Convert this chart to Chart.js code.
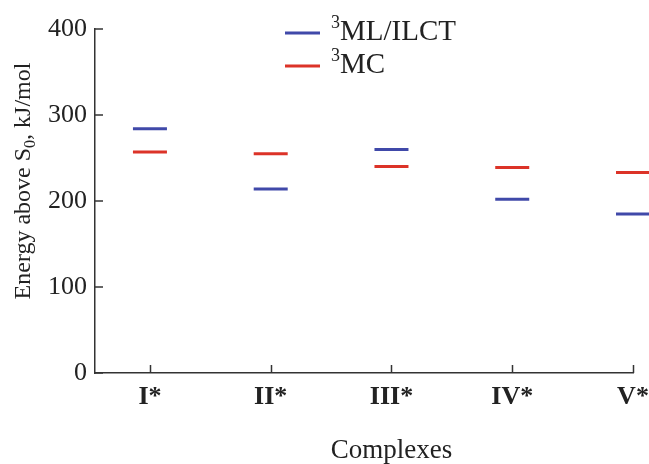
<!DOCTYPE html>
<html>
<head>
<meta charset="utf-8">
<script src="https://cdn.jsdelivr.net/npm/chart.js@4/dist/chart.umd.min.js"></script>
<style>
  html, body { margin: 0; padding: 0; background: #fff; }
  #wrap { width: 649px; height: 464px; }
</style>
</head>
<body>
<div id="wrap"><canvas id="levels"></canvas></div>
<script>
const complexes = ['I*', 'II*', 'III*', 'IV*', 'V*'];
const mlIlct = [284, 214, 260, 202, 185];
const mc = [257, 255, 240, 239, 233];
const yTicks = [0, 100, 200, 300, 400];

const serif = '"Liberation Serif", "Times New Roman", serif';
const BLUE = '#4049a9';
const RED = '#dc3328';
const AXIS = '#333';

const toPoints = vals => vals.map((v, i) => ({ x: i, y: v }));

// axis titles, category labels, inward ticks and the stacked legend
const decorations = {
  id: 'decorations',
  afterDraw(chart) {
    const { ctx, chartArea, scales } = chart;
    const xs = scales.x, ys = scales.y;
    ctx.save();
    ctx.strokeStyle = AXIS;
    ctx.lineWidth = 1.5;
    // inward ticks
    complexes.forEach((c, i) => {
      const px = Math.round(xs.getPixelForValue(i)) + 0.5;
      ctx.beginPath();
      ctx.moveTo(px, chartArea.bottom);
      ctx.lineTo(px, chartArea.bottom - 8);
      ctx.stroke();
    });
    yTicks.forEach(v => {
      const py = ys.getPixelForValue(v);
      ctx.beginPath();
      ctx.moveTo(chartArea.left, py);
      ctx.lineTo(chartArea.left + 8, py);
      ctx.stroke();
    });

    ctx.fillStyle = '#222';
    ctx.textBaseline = 'alphabetic';
    // category labels (drawn here so they don't shrink the plot area)
    ctx.font = 'bold 26px ' + serif;
    ctx.textAlign = 'center';
    complexes.forEach((c, i) => {
      ctx.fillText(c, xs.getPixelForValue(i), chartArea.bottom + 31);
    });

    // x title
    ctx.font = '27px ' + serif;
    ctx.fillText('Complexes', xs.getPixelForValue(2), 458);

    // y title with subscript
    ctx.save();
    ctx.translate(30, (chartArea.top + chartArea.bottom) / 2 - 20);
    ctx.rotate(-Math.PI / 2);
    const big = '24px ' + serif, small = '16px ' + serif;
    const parts = [['Energy above S', big, 0], ['0', small, 5], [', kJ/mol', big, 0]];
    let total = 0;
    parts.forEach(p => { ctx.font = p[1]; total += ctx.measureText(p[0]).width; });
    let x = -total / 2;
    ctx.textAlign = 'left';
    parts.forEach(p => {
      ctx.font = p[1];
      ctx.fillText(p[0], x, p[2]);
      x += ctx.measureText(p[0]).width;
    });
    ctx.restore();

    // legend
    const items = [[BLUE, 'ML/ILCT', 40], [RED, 'MC', 73]];
    items.forEach(([col, txt, base]) => {
      ctx.strokeStyle = col;
      ctx.lineWidth = 3;
      ctx.beginPath();
      ctx.moveTo(285, base - 7);
      ctx.lineTo(320, base - 7);
      ctx.stroke();
      ctx.textAlign = 'left';
      ctx.font = '18px ' + serif;
      ctx.fillText('3', 331, base - 12);
      ctx.font = '29px ' + serif;
      ctx.fillText(txt, 340, base);
    });
    ctx.restore();
  }
};

new Chart(document.getElementById('levels'), {
  type: 'scatter',
  data: {
    datasets: [
      { label: '3ML/ILCT', data: toPoints(mlIlct), borderColor: BLUE, backgroundColor: BLUE, clip: false },
      { label: '3MC', data: toPoints(mc), borderColor: RED, backgroundColor: RED, clip: false }
    ]
  },
  options: {
    responsive: true,
    maintainAspectRatio: false,
    animation: false,
    layout: { autoPadding: false, padding: { top: 29, right: 16, left: 0, bottom: 0 } },
    elements: {
      point: { pointStyle: 'line', radius: 17, hoverRadius: 17, borderWidth: 3, hoverBorderWidth: 3 }
    },
    plugins: { legend: { display: false }, tooltip: { enabled: false } },
    scales: {
      x: {
        type: 'linear',
        min: -0.455,
        max: 4,
        afterBuildTicks: s => { s.ticks = complexes.map((c, i) => ({ value: i })); },
        afterFit: s => { s.height = 91; },
        grid: { display: false, drawTicks: false },
        border: { display: true, color: AXIS, width: 1.5 },
        ticks: { display: false }
      },
      y: {
        min: 0,
        max: 400,
        afterBuildTicks: s => { s.ticks = yTicks.map(v => ({ value: v })); },
        afterFit: s => { s.width = 95; },
        grid: { display: false, drawTicks: false },
        border: { display: true, color: AXIS, width: 1.5 },
        ticks: {
          padding: 8,
          color: '#222',
          font: { family: serif, size: 26 }
        }
      }
    }
  },
  plugins: [decorations]
});
</script>
</body>
</html>
